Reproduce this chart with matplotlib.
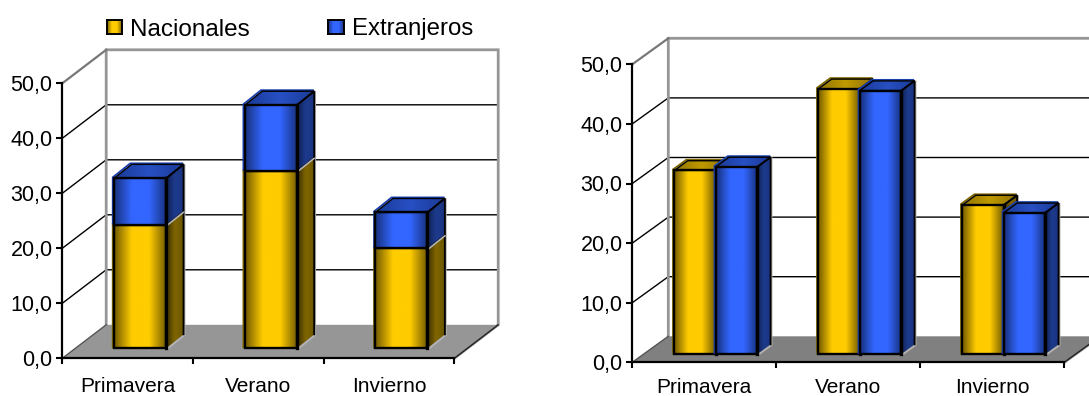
import matplotlib
matplotlib.use("Agg")
import matplotlib.pyplot as plt
import numpy as np
from matplotlib.colors import LinearSegmentedColormap
from matplotlib.patches import Polygon
from matplotlib.transforms import offset_copy

plt.rcParams["font.family"] = ["Liberation Sans", "DejaVu Sans"]

W, H = 1089, 396

categories = ["Primavera", "Verano", "Invierno"]
series_names = ["Nacionales", "Extranjeros"]

# stacked panel
stack_nacionales = [22.5, 32.3, 18.2]
stack_extranjeros = [8.4, 11.9, 6.5]

# side by side panel
side_nacionales = [30.8, 44.5, 25.0]
side_extranjeros = [31.4, 44.2, 23.7]

value_ticks = [0, 10, 20, 30, 40, 50]

YELLOW = dict(front=["#6f5800", "#ffcc00", "#ffcc00", "#6f5800"],
              side=["#3a2e00", "#806600", "#6a5500"], top=["#8f7200", "#c09a00", "#8f7200"],
              edge="#7f6600")
BLUE = dict(front=["#17307a", "#3366ff", "#3366ff", "#17307a"],
            side=["#0e1f50", "#1d3a8c", "#1a3380"], top=["#1a3a96", "#2850c4", "#1a3a96"],
            edge="#1a3fae")


def ramp(colors):
    return LinearSegmentedColormap.from_list("ramp", colors)


def fill_gradient(ax, verts, colors, zorder):
    # horizontal colour ramp clipped to an arbitrary polygon
    verts = np.asarray(verts)
    extent = [verts[:, 0].min(), verts[:, 0].max(), verts[:, 1].min(), verts[:, 1].max()]
    im = ax.imshow(np.linspace(0, 1, 128).reshape(1, -1), extent=extent, aspect="auto",
                   cmap=ramp(colors), origin="lower", zorder=zorder, interpolation="bilinear")
    clip = Polygon(verts, closed=True, transform=ax.transData)
    im.set_clip_path(clip)


def draw_box(ax, x0, width, y0, y1, ddx, ddy, style, lw=1.7):
    x1 = x0 + width
    front = [(x0, y0), (x1, y0), (x1, y1), (x0, y1)]
    side = [(x1, y0), (x1 + ddx, y0 + ddy), (x1 + ddx, y1 + ddy), (x1, y1)]
    top = [(x0, y1), (x1, y1), (x1 + ddx, y1 + ddy), (x0 + ddx, y1 + ddy)]
    fill_gradient(ax, side, style["side"], 3)
    fill_gradient(ax, top, style["top"], 3)
    fill_gradient(ax, front, style["front"], 3)

    # pale rim around the far side of the column
    rim = offset_copy(ax.transData, fig=fig, x=1.0, y=-0.8, units="dots")
    ax.plot([x1, x1 + ddx, x1 + ddx], [y0, y0 + ddy, y1 + ddy], color="#b4b4b4", lw=1.2, zorder=3,
            transform=rim, solid_joinstyle="miter", clip_on=False)

    # coloured rim on the left and back edges
    shade = offset_copy(ax.transData, fig=fig, x=-1.3, y=1.0, units="dots")
    ax.plot([x0, x0, x0 + ddx, x1 + ddx], [y0, y1, y1 + ddy, y1 + ddy], color=style["edge"], lw=1.3,
            zorder=3, transform=shade, solid_joinstyle="miter", clip_on=False)

    ax.add_patch(Polygon(top, closed=True, fill=False, ec="black", lw=lw * 0.6, zorder=3, clip_on=False))
    ax.plot([x1, x1 + ddx, x1 + ddx], [y1, y1 + ddy, y0 + ddy], color="black", lw=lw * 0.8, zorder=3,
            solid_joinstyle="miter", clip_on=False)
    ax.add_patch(Polygon(front, closed=True, fill=False, ec="black", lw=lw, zorder=3, clip_on=False,
                         joinstyle="miter"))
    ax.plot([x1, x1], [y0, y1], color="black", lw=lw * 1.4, zorder=3, clip_on=False)


def setup_panel(x_px, y0_px, per_cat, per_unit, depth_px, floor_color, label_pad):
    # axes span from the front origin to the far corner of the back wall
    dx = depth_px[0] / per_cat
    dy = depth_px[1] / per_unit
    n = len(categories)
    top = value_ticks[-1] + dy
    ax = fig.add_axes([x_px / W, (H - y0_px) / H, (n + dx) * per_cat / W, top * per_unit / H])
    ax.set_xlim(0, n + dx)
    ax.set_ylim(0, top)
    ax.patch.set_visible(False)

    ax.add_patch(Polygon([(0, 0), (n, 0), (n + dx, dy), (dx, dy)], closed=True, fc=floor_color,
                         ec="none", zorder=1.2, clip_on=False))
    for v in value_ticks[1:-1]:
        ax.plot([0, dx, n + dx], [v, v + dy, v + dy], color="black", lw=1, zorder=1, clip_on=False)
    ax.plot([dx, dx, n + dx, n + dx, n], [dy, top, top, dy, 0], color="#969696", lw=2, zorder=1.1,
            clip_on=False, solid_joinstyle="miter")
    ax.plot([0, dx], [value_ticks[-1], top], color="#777777", lw=1.6, zorder=1.1, clip_on=False)
    ax.plot([0, dx], [0, dy], color="#555555", lw=1, zorder=1.3)
    ax.plot([n, n + dx], [0, dy], color="#222222", lw=1, zorder=1.3, clip_on=False)

    for name in ["top", "right"]:
        ax.spines[name].set_visible(False)
    for name in ["left", "bottom"]:
        ax.spines[name].set_linewidth(1.6)
        ax.spines[name].set_zorder(2.5)
    ax.spines["left"].set_bounds(0, value_ticks[-1])
    ax.spines["bottom"].set_bounds(0, n)

    ax.set_yticks(value_ticks)
    ax.set_yticklabels([f"{v:.1f}".replace(".", ",") for v in value_ticks], fontsize=15.5)
    ax.tick_params(axis="y", length=4, width=1.5, pad=3, color="black")
    ax.set_xticks(range(n + 1))
    ax.set_xticklabels([])
    ax.tick_params(axis="x", which="major", length=4, width=1.5)
    ax.set_xticks(np.arange(n) + 0.5, minor=True)
    ax.set_xticklabels(categories, minor=True, fontsize=15)
    ax.tick_params(axis="x", which="minor", length=0, pad=label_pad)
    return ax, dx, dy


def legend_key(x0, x1, y0, y1, colors):
    kax = fig.add_axes([x0 / W, (H - y1) / H, (x1 - x0) / W, (y1 - y0) / H])
    kax.imshow(np.linspace(0, 1, 64).reshape(1, -1), aspect="auto", cmap=ramp(colors))
    kax.set_xticks([])
    kax.set_yticks([])
    for sp in kax.spines.values():
        sp.set_linewidth(1.4)


fig = plt.figure(figsize=(W / 100, H / 100), dpi=100)

# left panel, stacked columns
ax, dx, dy = setup_panel(62.3, 358.3, 130.67, 5.5, (43.9, 33.5), "#969696", 13.2)
base = 10 / 5.5
bar_w = 0.398
for i in range(len(categories)):
    x0 = i + 0.5 + 0.095 - bar_w / 2
    top_nac = base + stack_nacionales[i]
    top_ext = top_nac + stack_extranjeros[i]
    draw_box(ax, x0, bar_w, base, top_nac, 17.5 / 130.67, 14 / 5.5, YELLOW)
    draw_box(ax, x0, bar_w, top_nac, top_ext, 17.5 / 130.67, 14 / 5.5, BLUE)

# right panel, clustered columns
ax2, dx2, dy2 = setup_panel(632.3, 362.3, 144.0, 5.96, (36.0, 26.0), "#808080", 11.6)
base2 = 8.3 / 5.96
bar_w2 = 0.288
for i in range(len(categories)):
    x0 = i + 0.5 + 0.08 - bar_w2
    draw_box(ax2, x0, bar_w2, base2, base2 + side_nacionales[i], 13.3 / 144, 9.7 / 5.96, YELLOW)
    draw_box(ax2, x0 + bar_w2, bar_w2, base2, base2 + side_extranjeros[i], 13.3 / 144, 9.7 / 5.96, BLUE)

# legend above the left panel
legend_key(106.7, 121.7, 19.5, 33.5, ["#7f6600", "#ffcc00", "#ffcc00", "#7f6600"])
legend_key(328.3, 343.5, 19.5, 33.5, ["#1a3380", "#3366ff", "#3366ff", "#1a3380"])
fig.text(130 / W, (H - 35.5) / H, series_names[0], fontsize=17.5, va="baseline")
fig.text(351.7 / W, (H - 35.5) / H, series_names[1], fontsize=17.3, va="baseline")

fig.savefig("out.png", dpi=100)
